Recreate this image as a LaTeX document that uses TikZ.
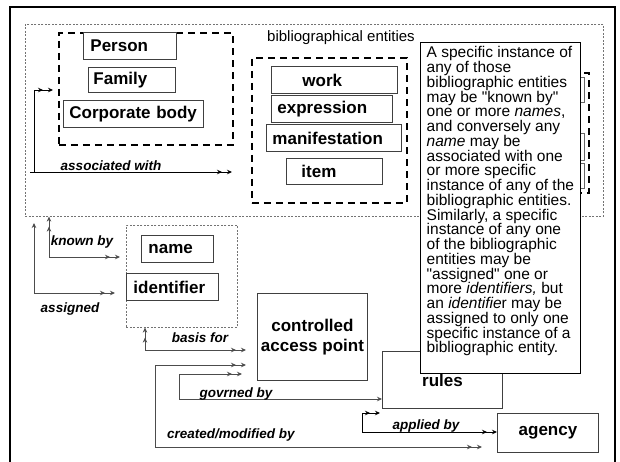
\documentclass[tikz,border=0pt]{standalone}
\usepackage{fontspec}
\setmainfont{Liberation Sans}
\usetikzlibrary{arrows.meta}
\begin{document}
\begin{tikzpicture}[x=1pt,y=-1pt,
  ebox/.style={draw=black!75, line width=0.9pt, fill=white, anchor=north west, align=left, inner ysep=0pt, minimum height=27pt, font=\bfseries\fontsize{17}{20}\selectfont},
  cbox/.style={draw=black!75, line width=0.9pt, fill=white, anchor=north west, align=center, inner sep=0pt, font=\bfseries\fontsize{17}{20}\selectfont},
  dbox/.style={draw=black, line width=1.8pt, dash pattern=on 7pt off 5pt, anchor=north west, inner sep=0pt},
  obox/.style={draw=black!55, line width=0.6pt, dash pattern=on 2pt off 1.5pt, anchor=north west, inner sep=0pt},
  conn/.style={draw=black!70, line width=0.9pt},
  dbl/.style={-{Stealth[length=5pt,width=4.5pt,sep=5pt]Stealth[length=5pt,width=4.5pt]}},
  sgl/.style={-{Stealth[length=5pt,width=4.5pt]}},
  lbl/.style={font=\bfseries\itshape\fontsize{13.5}{16}\selectfont, inner sep=0pt},
]
\useasboundingbox (0,0) rectangle (620,461);
\fill[white] (0,0) rectangle (620,461);
% outer frame
\draw[line width=2.5pt] (10,465) -- (10,7) -- (615,7) -- (615,465);

% bibliographic region
\node[obox, minimum width=578pt, minimum height=192pt] (biblio) at (25,24) {};
\node[font=\fontsize{15}{18}\selectfont, anchor=west, inner sep=0pt] (bibtitle) at (267,38) {bibliographical entities};

% persons group
\node[dbox, minimum width=174pt, minimum height=112pt] (persons) at (58,32) {};
\node[ebox, text width=79pt, inner xsep=7pt] (person) at (83,32) {Person};
\node[ebox, text width=77pt, inner xsep=5pt, minimum height=25pt] (family) at (88,67) {Family};
\node[ebox, text width=128pt, inner xsep=6pt] (corporate) at (63,100) {Corporate body};

% entities group
\node[dbox, minimum width=155pt, minimum height=145pt] (entities) at (251,57) {};
\node[ebox, text width=64pt, inner xsep=31pt] (work) at (271,66) {work};
\node[ebox, text width=109pt, inner xsep=6pt] (expression) at (271,95) {expression};
\node[ebox, text width=123pt, inner xsep=6pt] (manifestation) at (266,124) {manifestation};
\node[ebox, text width=66pt, inner xsep=15pt, minimum height=26pt] (item) at (286,158) {item};

% hidden group behind the note
\node[dbox, minimum width=158pt, minimum height=120pt] (hidden) at (430,72) {};
\node[draw=black!60, line width=0.7pt, anchor=north west, inner sep=0pt, minimum width=24pt, minimum height=25pt] (h1) at (560,77) {};
\node[draw=black!60, line width=0.7pt, anchor=north west, inner sep=0pt, minimum width=24pt, minimum height=27pt] (h2) at (560,133) {};
\node[draw=black!60, line width=0.7pt, anchor=north west, inner sep=0pt, minimum width=24pt, minimum height=25pt] (h3) at (560,163) {};

% name / identifier group
\node[obox, minimum width=111pt, minimum height=102pt] (nibox) at (126,225) {};
\node[ebox, text width=58pt, inner xsep=7pt] (name) at (141,235) {name};
\node[ebox, text width=78pt, inner xsep=7pt] (identifier) at (126,273) {identifier};

% lower boxes
\node[cbox, minimum width=110pt, minimum height=87pt] (cap) at (257,293) {controlled\\access point};
\node[cbox, minimum width=120pt, minimum height=57pt] (rules) at (382,351) {rules};
\node[cbox, minimum width=101pt, minimum height=39pt] (agency) at (497,413) {agency};

% note
\node[draw=black, line width=0.9pt, fill=white, anchor=north west, inner sep=0pt, minimum width=160pt, minimum height=331pt] (note) at (420,42) {};
\node[anchor=north west, align=left, inner sep=0pt, font=\fontsize{15.5}{14.75}\selectfont] (notetext) at (426.5,46.5) {A specific instance of\\
any of those\\
bibliographic entities\\
may be \textquotedbl known by\textquotedbl\\
one or more \textit{names},\\
and conversely any\\
\textit{name} may be\\
associated with one\\
or more specific\\
instance of any of the\\
bibliographic entities.\\
Similarly, a specific\\
instance of any one\\
of the bibliographic\\
entities may be\\
\textquotedbl assigned\textquotedbl\ one or\\
more \textit{identifiers,} but\\
an \textit{identifie}r may be\\
assigned to only one\\
specific instance of a\\
bibliographic entity.};

% connectors
\coordinate (aw0) at (30,172);
\coordinate (aw1) at (232,172);
\coordinate (awc) at (34,172);
\coordinate (awv) at (34,90);
\coordinate (awe) at (53,90);
\draw[conn, draw=black, dbl] (aw0) -- (aw1);
\draw[conn, draw=black, dbl] (awc) -- (awv) -- (awe);
\node[lbl] (lassoc) at (111,166) {associated with};

\coordinate (kbc) at (49,257);
\coordinate (kbe) at (120,257);
\draw[conn, dbl] (kbc) -- (kbc |- biblio.south);
\draw[conn, dbl] (kbc) -- (kbe);
\node[lbl] (lknown) at (82,242) {known by};

\coordinate (asc) at (34,293);
\coordinate (ast) at (34,223);
\coordinate (ase) at (115,293);
\draw[conn, sgl] (asc) -- (ast);
\draw[conn, dbl] (asc) -- (ase);
\node[lbl] (lassigned) at (70,309) {assigned};

\coordinate (bfc) at (145,350);
\coordinate (bfe) at (246,350);
\draw[conn, dbl] (bfc) -- (bfc |- nibox.south);
\draw[conn, dbl] (bfc) -- (bfe);
\node[lbl] (lbasis) at (200,338) {basis for};

\coordinate (cmc1) at (155,365);
\coordinate (cmt) at (246,365);
\coordinate (cmc2) at (155,447);
\coordinate (cme) at (482,447);
\draw[conn, dbl] (cmc1) -- (cmt);
\draw[conn, dbl] (cmc1) -- (cmc2) -- (cme);
\node[lbl, anchor=west] (lcreated) at (167,435) {created/modified by};

\coordinate (gvc1) at (179,374);
\coordinate (gvt) at (242,374);
\coordinate (gvc2) at (179,399);
\draw[conn, dbl] (gvc1) -- (gvt);
\draw[conn, sgl] (gvc1) -- (gvc2) -- (gvc2 -| rules.west);
\node[lbl] (lgov) at (236,394) {govrned by};

\coordinate (apc1) at (362,413);
\coordinate (apt) at (380,413);
\coordinate (apc2) at (362,432);
\draw[conn, draw=black, dbl] (apc1) -- (apt);
\draw[conn, draw=black, dbl] (apc1) -- (apc2) -- (apc2 -| agency.west);
\node[lbl] (lapplied) at (426,426) {applied by};
\end{tikzpicture}
\end{document}
